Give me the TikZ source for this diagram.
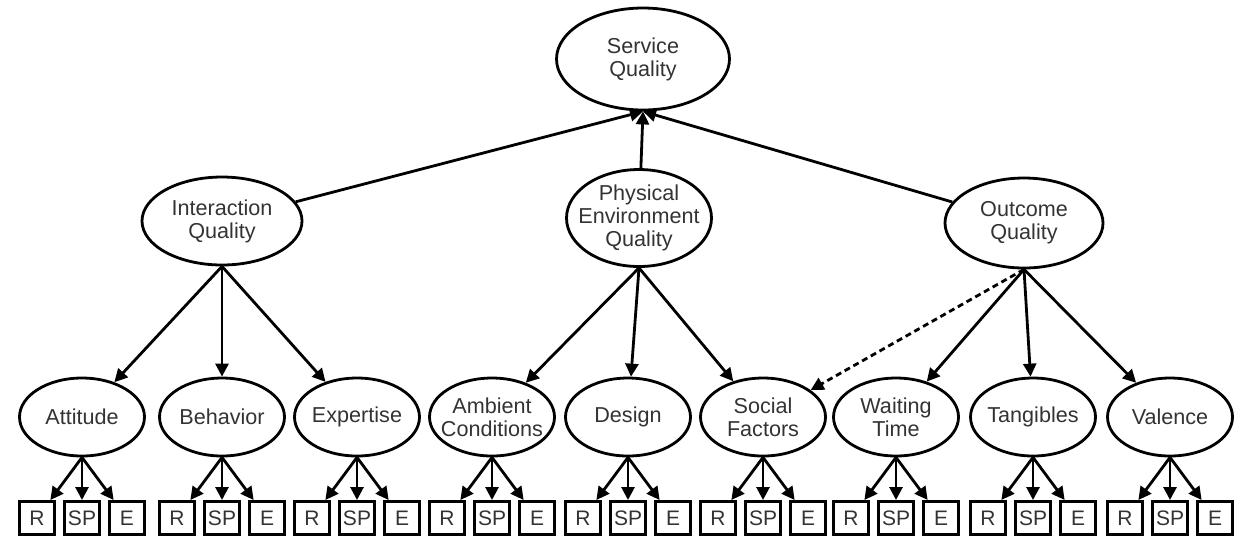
\documentclass[tikz,border=0pt]{standalone}
\usepackage{fontspec}
\setmainfont{Liberation Sans}
\usetikzlibrary{shapes.geometric,arrows.meta}

\begin{document}
\begin{tikzpicture}[x=0.5pt,y=-0.5pt,
  latent/.style={draw=black,line width=1.4pt,ellipse,inner ysep=0pt,inner xsep=-6pt,minimum width=62.5pt,minimum height=39pt,align=center,text=black!80,font=\fontsize{10.8}{11.5}\selectfont},
  item/.style={draw=black,line width=1.5pt,rectangle,minimum width=17.5pt,minimum height=16.5pt,inner sep=0pt,text=black!80,font=\fontsize{10.5}{10}\selectfont},
  loading/.style={draw=black,line width=1.4pt,-{Triangle[length=6.5pt,width=6.5pt]}},
  dashload/.style={loading,dash pattern=on 3pt off 2pt}]
\useasboundingbox (0,0) rectangle (1241,538);
% latent variables
\node [latent,minimum width=86.5pt,minimum height=51pt] (sq) at (643,59) {Service\\Quality};
\node [latent,minimum width=80pt,minimum height=44pt] (iq) at (222,221) {Interaction\\Quality};
\node [latent,minimum width=72.5pt,minimum height=48.5pt] (peq) at (639,218) {Physical\\Environment\\Quality};
\node [latent,minimum width=79pt,minimum height=45pt] (oq) at (1024,223) {Outcome\\Quality};
\node [latent] (att) at (82,417) {Attitude};
\node [latent] (beh) at (222,417) {Behavior};
\node [latent] (exp) at (357,417) {Expertise};
\node [latent] (amb) at (492,417) {Ambient\\Conditions};
\node [latent] (des) at (628,417) {Design};
\node [latent] (soc) at (763,417) {Social\\Factors};
\node [latent] (wait) at (896,417) {Waiting\\Time};
\node [latent] (tan) at (1033,417) {Tangibles};
\node [latent] (val) at (1170,417) {Valence};
% indicators
\node [item] (attR) at (37,518) {R};
\node [item] (attSP) at (82,518) {SP};
\node [item] (attE) at (127,518) {E};
\node [item] (behR) at (177,518) {R};
\node [item] (behSP) at (222,518) {SP};
\node [item] (behE) at (267,518) {E};
\node [item] (expR) at (312,518) {R};
\node [item] (expSP) at (357,518) {SP};
\node [item] (expE) at (402,518) {E};
\node [item] (ambR) at (447,518) {R};
\node [item] (ambSP) at (492,518) {SP};
\node [item] (ambE) at (537,518) {E};
\node [item] (desR) at (583,518) {R};
\node [item] (desSP) at (628,518) {SP};
\node [item] (desE) at (673,518) {E};
\node [item] (socR) at (718,518) {R};
\node [item] (socSP) at (763,518) {SP};
\node [item] (socE) at (808,518) {E};
\node [item] (waitR) at (851,518) {R};
\node [item] (waitSP) at (896,518) {SP};
\node [item] (waitE) at (941,518) {E};
\node [item] (tanR) at (988,518) {R};
\node [item] (tanSP) at (1033,518) {SP};
\node [item] (tanE) at (1078,518) {E};
\node [item] (valR) at (1125,518) {R};
\node [item] (valSP) at (1170,518) {SP};
\node [item] (valE) at (1215,518) {E};
% second order
\draw [loading] (iq) -- (sq.south);
\draw [loading] (peq) -- (sq.south);
\draw [loading] (oq) -- (sq.south);
% first order
\draw [loading] (iq.south) -- (att);
\draw [loading] (iq.south) -- (beh);
\draw [loading] (iq.south) -- (exp);
\draw [loading] (peq.south) -- (amb);
\draw [loading] (peq.south) -- (des);
\draw [loading] (peq.south) -- (soc);
\draw [dashload] (oq.south) -- (soc);
\draw [loading] (oq.south) -- (wait);
\draw [loading] (oq.south) -- (tan);
\draw [loading] (oq.south) -- (val);
% items
\draw [loading] (att.south) -- (attR);
\draw [loading] (att.south) -- (attSP);
\draw [loading] (att.south) -- (attE);
\draw [loading] (beh.south) -- (behR);
\draw [loading] (beh.south) -- (behSP);
\draw [loading] (beh.south) -- (behE);
\draw [loading] (exp.south) -- (expR);
\draw [loading] (exp.south) -- (expSP);
\draw [loading] (exp.south) -- (expE);
\draw [loading] (amb.south) -- (ambR);
\draw [loading] (amb.south) -- (ambSP);
\draw [loading] (amb.south) -- (ambE);
\draw [loading] (des.south) -- (desR);
\draw [loading] (des.south) -- (desSP);
\draw [loading] (des.south) -- (desE);
\draw [loading] (soc.south) -- (socR);
\draw [loading] (soc.south) -- (socSP);
\draw [loading] (soc.south) -- (socE);
\draw [loading] (wait.south) -- (waitR);
\draw [loading] (wait.south) -- (waitSP);
\draw [loading] (wait.south) -- (waitE);
\draw [loading] (tan.south) -- (tanR);
\draw [loading] (tan.south) -- (tanSP);
\draw [loading] (tan.south) -- (tanE);
\draw [loading] (val.south) -- (valR);
\draw [loading] (val.south) -- (valSP);
\draw [loading] (val.south) -- (valE);
\end{tikzpicture}
\end{document}
